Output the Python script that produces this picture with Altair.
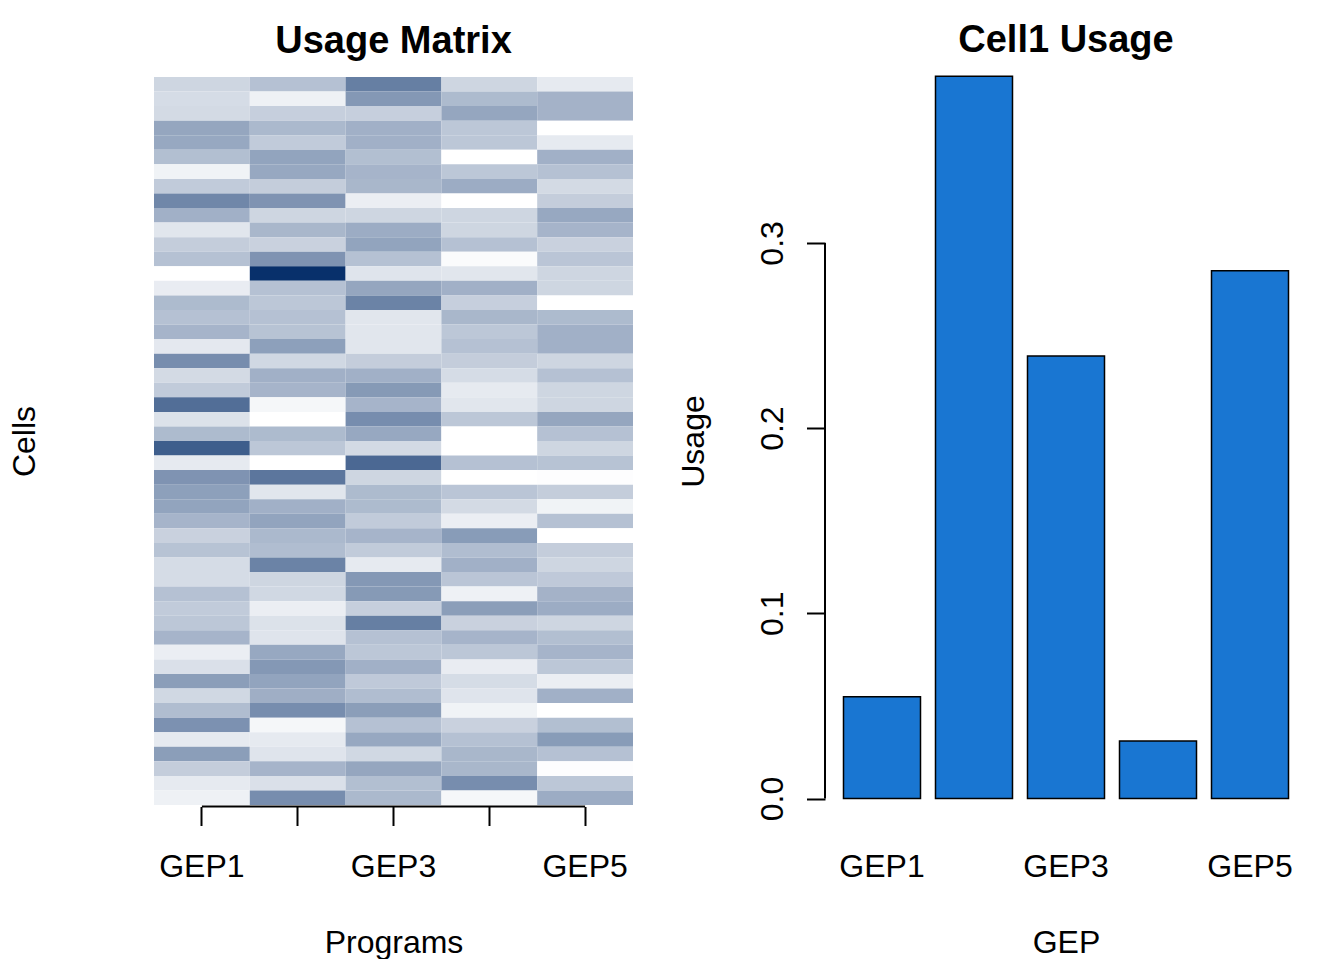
import altair as alt
import pandas as pd

programs = ["GEP1", "GEP2", "GEP3", "GEP4", "GEP5"]
cells = [f"Cell{i}" for i in range(1, 51)]

# heat values per program, listed top row to bottom row
gep1_vals = [0.20, 0.17, 0.18, 0.43, 0.42, 0.31, 0.06, 0.25, 0.58, 0.38,
             0.12, 0.24, 0.30, 0.00, 0.09, 0.33, 0.30, 0.36, 0.11, 0.55,
             0.18, 0.25, 0.70, 0.14, 0.33, 0.78, 0.10, 0.52, 0.46, 0.44,
             0.36, 0.22, 0.29, 0.17, 0.17, 0.30, 0.25, 0.27, 0.36, 0.08,
             0.15, 0.47, 0.19, 0.32, 0.53, 0.10, 0.47, 0.24, 0.10, 0.07]
gep2_vals = [0.30, 0.07, 0.23, 0.34, 0.25, 0.44, 0.42, 0.24, 0.52, 0.20,
             0.35, 0.22, 0.52, 1.00, 0.30, 0.27, 0.30, 0.29, 0.46, 0.19,
             0.38, 0.36, 0.04, 0.00, 0.33, 0.27, 0.00, 0.66, 0.12, 0.38,
             0.44, 0.34, 0.32, 0.60, 0.20, 0.19, 0.08, 0.14, 0.13, 0.42,
             0.50, 0.44, 0.39, 0.55, 0.04, 0.10, 0.13, 0.36, 0.15, 0.55]
gep3_vals = [0.62, 0.50, 0.23, 0.38, 0.38, 0.31, 0.36, 0.35, 0.08, 0.20,
             0.40, 0.44, 0.30, 0.13, 0.43, 0.60, 0.12, 0.12, 0.12, 0.24,
             0.38, 0.49, 0.36, 0.55, 0.42, 0.18, 0.73, 0.20, 0.33, 0.33,
             0.25, 0.36, 0.25, 0.10, 0.50, 0.49, 0.23, 0.62, 0.30, 0.27,
             0.38, 0.26, 0.32, 0.47, 0.30, 0.42, 0.19, 0.43, 0.31, 0.34]
gep4_vals = [0.20, 0.33, 0.43, 0.27, 0.27, 0.00, 0.27, 0.40, 0.00, 0.20,
             0.20, 0.30, 0.02, 0.12, 0.38, 0.23, 0.35, 0.27, 0.30, 0.24,
             0.17, 0.10, 0.12, 0.27, 0.00, 0.00, 0.30, 0.00, 0.28, 0.18,
             0.08, 0.48, 0.32, 0.38, 0.28, 0.07, 0.47, 0.22, 0.36, 0.27,
             0.09, 0.17, 0.13, 0.06, 0.22, 0.30, 0.35, 0.35, 0.55, 0.04]
gep5_vals = [0.10, 0.37, 0.37, 0.00, 0.10, 0.38, 0.30, 0.18, 0.24, 0.42,
             0.36, 0.22, 0.28, 0.20, 0.20, 0.00, 0.33, 0.38, 0.38, 0.20,
             0.30, 0.20, 0.20, 0.43, 0.30, 0.20, 0.29, 0.01, 0.24, 0.06,
             0.30, 0.00, 0.24, 0.20, 0.26, 0.37, 0.40, 0.20, 0.31, 0.36,
             0.27, 0.08, 0.38, 0.00, 0.31, 0.48, 0.30, 0.01, 0.27, 0.40]

cell1_usage = [0.055, 0.390, 0.239, 0.031, 0.285]

FONT = "Liberation Sans"

cols = [gep1_vals, gep2_vals, gep3_vals, gep4_vals, gep5_vals]
rows = []
for p, vals in zip(programs, cols):
    for c, v in zip(cells, vals):
        rows.append({"program": p, "cell": c, "usage": v})
heat_df = pd.DataFrame(rows)
bar_df = pd.DataFrame({"program": programs, "usage": cell1_usage})
one = pd.DataFrame({"k": [0]})

label_expr = "indexof(['GEP1','GEP3','GEP5'], datum.label) >= 0 ? datum.label : ''"

heat = alt.Chart(heat_df).mark_rect().encode(
    x=alt.X("program:N", sort=programs,
            scale=alt.Scale(paddingInner=0, paddingOuter=0),
            axis=alt.Axis(domain=False, ticks=True, tickSize=19, tickWidth=2,
                          tickColor="black", offset=1.5, labelAngle=0,
                          labelFontSize=32, labelFont=FONT, labelColor="black",
                          labelBaseline="alphabetic", labelPadding=50.5,
                          labelExpr=label_expr, grid=False,
                          title="Programs", titleX=239.5, titleY=146,
                          titleBaseline="alphabetic", titleAlign="center",
                          titleFontSize=32, titleFont=FONT,
                          titleFontWeight="normal", titleColor="black")),
    y=alt.Y("cell:O", sort=cells,
            scale=alt.Scale(paddingInner=0, paddingOuter=0),
            axis=alt.Axis(domain=False, ticks=False, labels=False, grid=False,
                          title="Cells", titleX=-120, titleY=364,
                          titleAngle=270, titleAlign="center",
                          titleBaseline="alphabetic", titleFontSize=32,
                          titleFont=FONT, titleFontWeight="normal",
                          titleColor="black")),
    color=alt.Color("usage:Q", legend=None,
                    scale=alt.Scale(domain=[0, 1], range=["#FFFFFF", "#08306B"],
                                    interpolate="rgb")),
)

heat_axis_line = alt.Chart(one).mark_rule(color="black", strokeWidth=2).encode(
    x=alt.datum("GEP1"), x2=alt.datum("GEP5"), y=alt.value(729.5)
)

left = alt.layer(heat, heat_axis_line).properties(
    width=479, height=728,
    title=alt.TitleParams(text="Usage Matrix", fontSize=38, fontWeight="bold",
                          font=FONT, anchor="middle", baseline="alphabetic",
                          offset=-14, color="black"),
)

bars = alt.Chart(bar_df).mark_bar(color="#1976D2", stroke="black",
                                  strokeWidth=1.5).encode(
    x=alt.X("program:N", sort=programs,
            scale=alt.Scale(paddingInner=0.163, paddingOuter=0.201),
            axis=alt.Axis(domain=False, ticks=False, tickSize=0, labelAngle=0,
                          labelFontSize=32, labelFont=FONT, labelColor="black",
                          labelBaseline="alphabetic", labelPadding=71,
                          labelExpr=label_expr, grid=False,
                          title="GEP", titleX=241, titleY=147.5,
                          titleBaseline="alphabetic", titleAlign="center",
                          titleFontSize=32, titleFont=FONT,
                          titleFontWeight="normal", titleColor="black")),
    y=alt.Y("usage:Q",
            scale=alt.Scale(domain=[-0.0035, 0.3896], nice=False, zero=False),
            axis=alt.Axis(values=[0, 0.1, 0.2, 0.3], format=".1f", domain=False,
                          ticks=True, tickSize=18.5, tickWidth=2,
                          tickColor="black", grid=False, labelAngle=270,
                          labelAlign="center", labelBaseline="alphabetic",
                          labelPadding=24, labelFontSize=32, labelFont=FONT,
                          labelColor="black",
                          title="Usage", titleX=-121.5, titleY=364,
                          titleAngle=270, titleAlign="center",
                          titleBaseline="alphabetic", titleFontSize=32,
                          titleFont=FONT, titleFontWeight="normal",
                          titleColor="black")),
    y2=alt.datum(0),
)

bar_axis_line = alt.Chart(one).mark_rule(color="black", strokeWidth=2).encode(
    x=alt.value(0), y=alt.datum(0), y2=alt.datum(0.3)
)

right = alt.layer(bars, bar_axis_line).properties(
    width=482, height=728,
    title=alt.TitleParams(text="Cell1 Usage", fontSize=38, fontWeight="bold",
                          font=FONT, anchor="middle", baseline="alphabetic",
                          offset=-14, color="black"),
)

chart = alt.hconcat(left, right, spacing=44).configure(
    padding={"left": 0, "top": 13, "right": 5, "bottom": 0},
    font=FONT,
).configure_view(stroke=None)

chart.save("out.html", embed_options={"renderer": "svg", "actions": False})
